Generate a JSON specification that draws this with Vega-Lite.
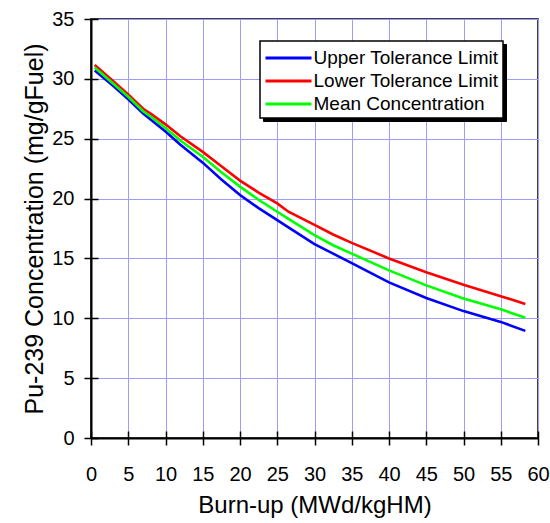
{
  "$schema": "https://vega.github.io/schema/vega-lite/v6.json",
  "width": 447,
  "height": 419,
  "autosize": {"type": "none"},
  "padding": {"left": 91, "top": 19, "right": 12, "bottom": 86},
  "background": "white",
  "config": {
    "font": "Liberation Sans",
    "view": {"stroke": "black", "strokeWidth": 1.5}
  },
  "datasets": {
    "pu": [
      {"b": 0.5, "c": 30.7, "s": "Upper Tolerance Limit"},
      {"b": 3, "c": 29.4, "s": "Upper Tolerance Limit"},
      {"b": 5, "c": 28.3, "s": "Upper Tolerance Limit"},
      {"b": 7, "c": 27.1, "s": "Upper Tolerance Limit"},
      {"b": 8, "c": 26.6, "s": "Upper Tolerance Limit"},
      {"b": 10, "c": 25.6, "s": "Upper Tolerance Limit"},
      {"b": 12, "c": 24.5, "s": "Upper Tolerance Limit"},
      {"b": 15, "c": 23.0, "s": "Upper Tolerance Limit"},
      {"b": 17.5, "c": 21.6, "s": "Upper Tolerance Limit"},
      {"b": 20, "c": 20.3, "s": "Upper Tolerance Limit"},
      {"b": 22.5, "c": 19.2, "s": "Upper Tolerance Limit"},
      {"b": 25, "c": 18.2, "s": "Upper Tolerance Limit"},
      {"b": 26.5, "c": 17.6, "s": "Upper Tolerance Limit"},
      {"b": 30, "c": 16.2, "s": "Upper Tolerance Limit"},
      {"b": 32.5, "c": 15.4, "s": "Upper Tolerance Limit"},
      {"b": 35, "c": 14.6, "s": "Upper Tolerance Limit"},
      {"b": 40, "c": 13.0, "s": "Upper Tolerance Limit"},
      {"b": 45, "c": 11.7, "s": "Upper Tolerance Limit"},
      {"b": 50, "c": 10.6, "s": "Upper Tolerance Limit"},
      {"b": 55, "c": 9.7, "s": "Upper Tolerance Limit"},
      {"b": 58.3, "c": 8.95, "s": "Upper Tolerance Limit"},
      {"b": 0.5, "c": 31.15, "s": "Lower Tolerance Limit"},
      {"b": 3, "c": 29.8, "s": "Lower Tolerance Limit"},
      {"b": 5, "c": 28.7, "s": "Lower Tolerance Limit"},
      {"b": 7, "c": 27.5, "s": "Lower Tolerance Limit"},
      {"b": 8, "c": 27.1, "s": "Lower Tolerance Limit"},
      {"b": 10, "c": 26.2, "s": "Lower Tolerance Limit"},
      {"b": 12, "c": 25.2, "s": "Lower Tolerance Limit"},
      {"b": 15, "c": 23.9, "s": "Lower Tolerance Limit"},
      {"b": 17.5, "c": 22.7, "s": "Lower Tolerance Limit"},
      {"b": 20, "c": 21.5, "s": "Lower Tolerance Limit"},
      {"b": 22.5, "c": 20.5, "s": "Lower Tolerance Limit"},
      {"b": 25, "c": 19.6, "s": "Lower Tolerance Limit"},
      {"b": 26.5, "c": 18.9, "s": "Lower Tolerance Limit"},
      {"b": 30, "c": 17.8, "s": "Lower Tolerance Limit"},
      {"b": 32.5, "c": 17.0, "s": "Lower Tolerance Limit"},
      {"b": 35, "c": 16.3, "s": "Lower Tolerance Limit"},
      {"b": 40, "c": 15.0, "s": "Lower Tolerance Limit"},
      {"b": 45, "c": 13.85, "s": "Lower Tolerance Limit"},
      {"b": 50, "c": 12.8, "s": "Lower Tolerance Limit"},
      {"b": 55, "c": 11.85, "s": "Lower Tolerance Limit"},
      {"b": 58.3, "c": 11.2, "s": "Lower Tolerance Limit"},
      {"b": 0.5, "c": 30.95, "s": "Mean Concentration"},
      {"b": 3, "c": 29.6, "s": "Mean Concentration"},
      {"b": 5, "c": 28.5, "s": "Mean Concentration"},
      {"b": 7, "c": 27.3, "s": "Mean Concentration"},
      {"b": 8, "c": 26.85, "s": "Mean Concentration"},
      {"b": 10, "c": 25.9, "s": "Mean Concentration"},
      {"b": 12, "c": 24.85, "s": "Mean Concentration"},
      {"b": 15, "c": 23.5, "s": "Mean Concentration"},
      {"b": 17.5, "c": 22.2, "s": "Mean Concentration"},
      {"b": 20, "c": 21.0, "s": "Mean Concentration"},
      {"b": 22.5, "c": 19.9, "s": "Mean Concentration"},
      {"b": 25, "c": 18.9, "s": "Mean Concentration"},
      {"b": 26.5, "c": 18.3, "s": "Mean Concentration"},
      {"b": 30, "c": 16.95, "s": "Mean Concentration"},
      {"b": 32.5, "c": 16.1, "s": "Mean Concentration"},
      {"b": 35, "c": 15.4, "s": "Mean Concentration"},
      {"b": 40, "c": 14.0, "s": "Mean Concentration"},
      {"b": 45, "c": 12.75, "s": "Mean Concentration"},
      {"b": 50, "c": 11.65, "s": "Mean Concentration"},
      {"b": 55, "c": 10.75, "s": "Mean Concentration"},
      {"b": 58.3, "c": 10.05, "s": "Mean Concentration"}
    ]
  },
  "layer": [
    {
      "data": {"name": "pu"},
      "mark": {"type": "point", "opacity": 0},
      "encoding": {
        "x": {
          "field": "b", "type": "quantitative",
          "scale": {"domain": [0, 60], "nice": false, "zero": false},
          "axis": {
            "orient": "bottom", "title": null, "labels": false, "domain": false, "grid": false,
            "values": [0, 5, 10, 15, 20, 25, 30, 35, 40, 45, 50, 55, 60],
            "tickColor": "black", "tickSize": -7, "tickWidth": 1.5
          }
        },
        "y": {
          "field": "c", "type": "quantitative",
          "scale": {"domain": [0, 35], "nice": false},
          "axis": {
            "orient": "left", "title": null, "labels": false, "domain": false, "grid": false,
            "values": [0, 5, 10, 15, 20, 25, 30, 35],
            "tickColor": "black", "tickSize": -7, "tickWidth": 1.5
          }
        },
        "shape": {
          "field": "s", "type": "nominal",
          "scale": {
            "domain": ["Upper Tolerance Limit", "Lower Tolerance Limit", "Mean Concentration"],
            "range": ["M-2,0H2", "M-2,0H2", "M-2,0H2"]
          },
          "legend": {
            "title": null,
            "orient": "none",
            "legendX": 172,
            "legendY": 25,
            "zindex": 0,
            "fillColor": "black",
            "strokeColor": "black",
            "padding": 4,
            "symbolSize": 529,
            "symbolStrokeWidth": 3,
            "symbolStrokeColor": "black",
            "symbolFillColor": "black",
            "symbolOffset": 11.5,
            "labelFontSize": 19,
            "labelColor": "black",
            "labelOffset": 197,
            "labelExpr": "''",
            "rowPadding": 0,
            "encode": {"legend": {"update": {"strokeWidth": {"value": 1.5}}}}
          }
        }
      }
    },
    {
      "data": {"name": "pu"},
      "mark": {"type": "line", "strokeWidth": 2.6},
      "encoding": {
        "x": {
          "field": "b", "type": "quantitative",
          "scale": {"domain": [0, 60], "nice": false, "zero": false},
          "axis": {
            "orient": "bottom",
            "title": "Burn-up (MWd/kgHM)",
            "values": [0, 5, 10, 15, 20, 25, 30, 35, 40, 45, 50, 55, 60],
            "grid": true, "gridColor": "#9c9cff", "gridWidth": 1, "gridOpacity": 1,
            "domainColor": "black", "domainWidth": 2,
            "tickColor": "black", "tickSize": 7, "tickWidth": 1.5,
            "labelFontSize": 20, "labelColor": "black", "labelPadding": 19,
            "labelFlush": false, "labelOverlap": false,
            "titleFontSize": 24, "titleFontWeight": "normal", "titleColor": "black", "titlePadding": 9
          }
        },
        "y": {
          "field": "c", "type": "quantitative",
          "scale": {"domain": [0, 35], "nice": false},
          "axis": {
            "orient": "left",
            "title": "Pu-239 Concentration (mg/gFuel)",
            "values": [0, 5, 10, 15, 20, 25, 30, 35],
            "grid": true, "gridColor": "#9c9cff", "gridWidth": 1, "gridOpacity": 1,
            "domainColor": "black", "domainWidth": 2,
            "tickColor": "black", "tickSize": 7, "tickWidth": 1.5,
            "labelFontSize": 20, "labelColor": "black", "labelPadding": 10,
            "labelFlush": false, "labelOverlap": false,
            "titleFontSize": 25, "titleFontWeight": "normal", "titleColor": "black", "titlePadding": 4
          }
        },
        "color": {
          "field": "s", "type": "nominal",
          "scale": {
            "domain": ["Upper Tolerance Limit", "Lower Tolerance Limit", "Mean Concentration"],
            "range": ["#0000ff", "#ff0000", "#00ff00"]
          },
          "legend": {
            "title": null,
            "orient": "none",
            "legendX": 169,
            "legendY": 22,
            "zindex": 1,
            "fillColor": "white",
            "strokeColor": "black",
            "padding": 4,
            "symbolType": "M-2,0H2",
            "symbolSize": 529,
            "symbolStrokeWidth": 3,
            "symbolOffset": 11.5,
            "labelFontSize": 19,
            "labelLimit": 400,
            "labelColor": "black",
            "labelOffset": 12,
            "rowPadding": 0,
            "encode": {"legend": {"update": {"strokeWidth": {"value": 1.5}}}}
          }
        }
      }
    }
  ],
  "resolve": {"axis": {"x": "independent", "y": "independent"}, "legend": {"shape": "independent", "color": "independent"}}
}
